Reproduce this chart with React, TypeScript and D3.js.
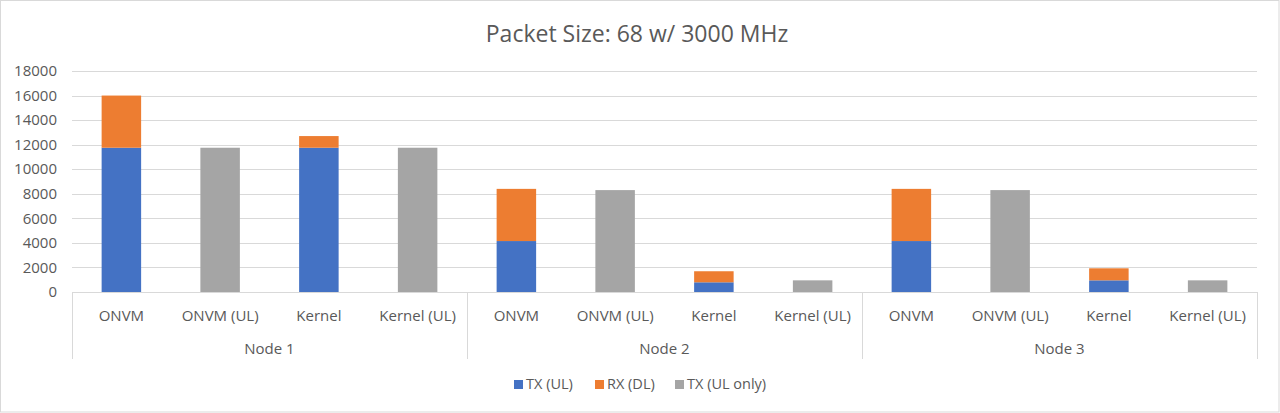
import React from "react";
import * as d3 from "d3";

const groups = ["Node 1", "Node 2", "Node 3"];
const subCategories = ["ONVM", "ONVM (UL)", "Kernel", "Kernel (UL)"];
const seriesNames = ["TX (UL)", "RX (DL)", "TX (UL only)"];
const seriesColors = ["#4472C4", "#ED7D31", "#A5A5A5"];
// values per bar in order Node1[ONVM, ONVM(UL), Kernel, Kernel(UL)], Node2[...], Node3[...]
const txUL = [11750, 0, 11750, 0, 4150, 0, 790, 0, 4150, 0, 950, 0];
const rxDL = [4250, 0, 950, 0, 4250, 0, 900, 0, 4250, 0, 980, 0];
const txULOnly = [0, 11750, 0, 11750, 0, 8300, 0, 950, 0, 8300, 0, 950];
const yTicks = [0, 2000, 4000, 6000, 8000, 10000, 12000, 14000, 16000, 18000];

const W = 1280;
const H = 413;
const left = 72;
const right = 1257;
const top = 71;
const bottom = 292;

export default function App() {
  const cats = groups.flatMap((g) => subCategories.map((s) => `${g}|${s}`));
  const x = d3.scaleBand<string>().domain(cats).range([left, right]).paddingInner(0.6).paddingOuter(0.3);
  const step = (right - left) / cats.length;
  const y = d3.scaleLinear().domain([0, 18000]).range([bottom, top]);
  const data = cats.map((c, i) => ({ c, v: [txUL[i], rxDL[i], txULOnly[i]] }));
  const stack = d3.stack<any>().keys(["0", "1", "2"]).value((d, k) => d.v[+k]);
  const stacked = stack(data);
  const font = "'Open Sans', 'Liberation Sans', sans-serif";
  const textColor = "#595959";
  const gridColor = "#D9D9D9";

  const legendX = [514, 595, 675];

  return (
    <svg width={W} height={H} style={{ position: "absolute", left: 0, top: 0 }} fontFamily={font}>
      <rect x={0.5} y={0.5} width={W - 1.5} height={H - 1.5} fill="#fff" stroke="#D9D9D9" />
      <text x={637} y={41.5} textAnchor="middle" fontSize={23} fill={textColor}>
        Packet Size: 68 w/ 3000 MHz
      </text>
      {yTicks.map((t) => (
        <g key={t}>
          {t > 0 && (
            <line x1={left} x2={right} y1={Math.round(y(t)) + 0.5} y2={Math.round(y(t)) + 0.5} stroke={gridColor} />
          )}
          <text x={57} y={y(t)} dy="0.35em" textAnchor="end" fontSize={15} fill={textColor}>
            {t}
          </text>
        </g>
      ))}
      {stacked.map((layer, si) => (
        <g key={si} fill={seriesColors[si]}>
          {layer.map((d, i) =>
            d[1] - d[0] > 0 ? (
              <rect key={i} x={x(cats[i])} width={x.bandwidth()} y={y(d[1])} height={y(d[0]) - y(d[1])} />
            ) : null
          )}
        </g>
      ))}
      <line x1={left} x2={right} y1={bottom + 0.5} y2={bottom + 0.5} stroke={gridColor} />
      {d3.range(groups.length + 1).map((g) => {
        const gx = Math.round(left + g * step * subCategories.length) + 0.5;
        return <line key={g} x1={gx} x2={gx} y1={bottom} y2={359} stroke={gridColor} />;
      })}
      {cats.map((c, i) => (
        <text key={c} x={(x(c) as number) + x.bandwidth() / 2} y={320.5} textAnchor="middle" fontSize={15} fill={textColor}>
          {subCategories[i % subCategories.length]}
        </text>
      ))}
      {groups.map((g, gi) => (
        <text key={g} x={left + (gi + 0.5) * step * subCategories.length} y={354} textAnchor="middle" fontSize={15} fill={textColor}>
          {g}
        </text>
      ))}
      {seriesNames.map((s, i) => (
        <g key={s}>
          <rect x={legendX[i]} y={380} width={9} height={9} fill={seriesColors[i]} />
          <text x={legendX[i] + 12} y={389} fontSize={14.5} fill={textColor}>
            {s}
          </text>
        </g>
      ))}
    </svg>
  );
}
